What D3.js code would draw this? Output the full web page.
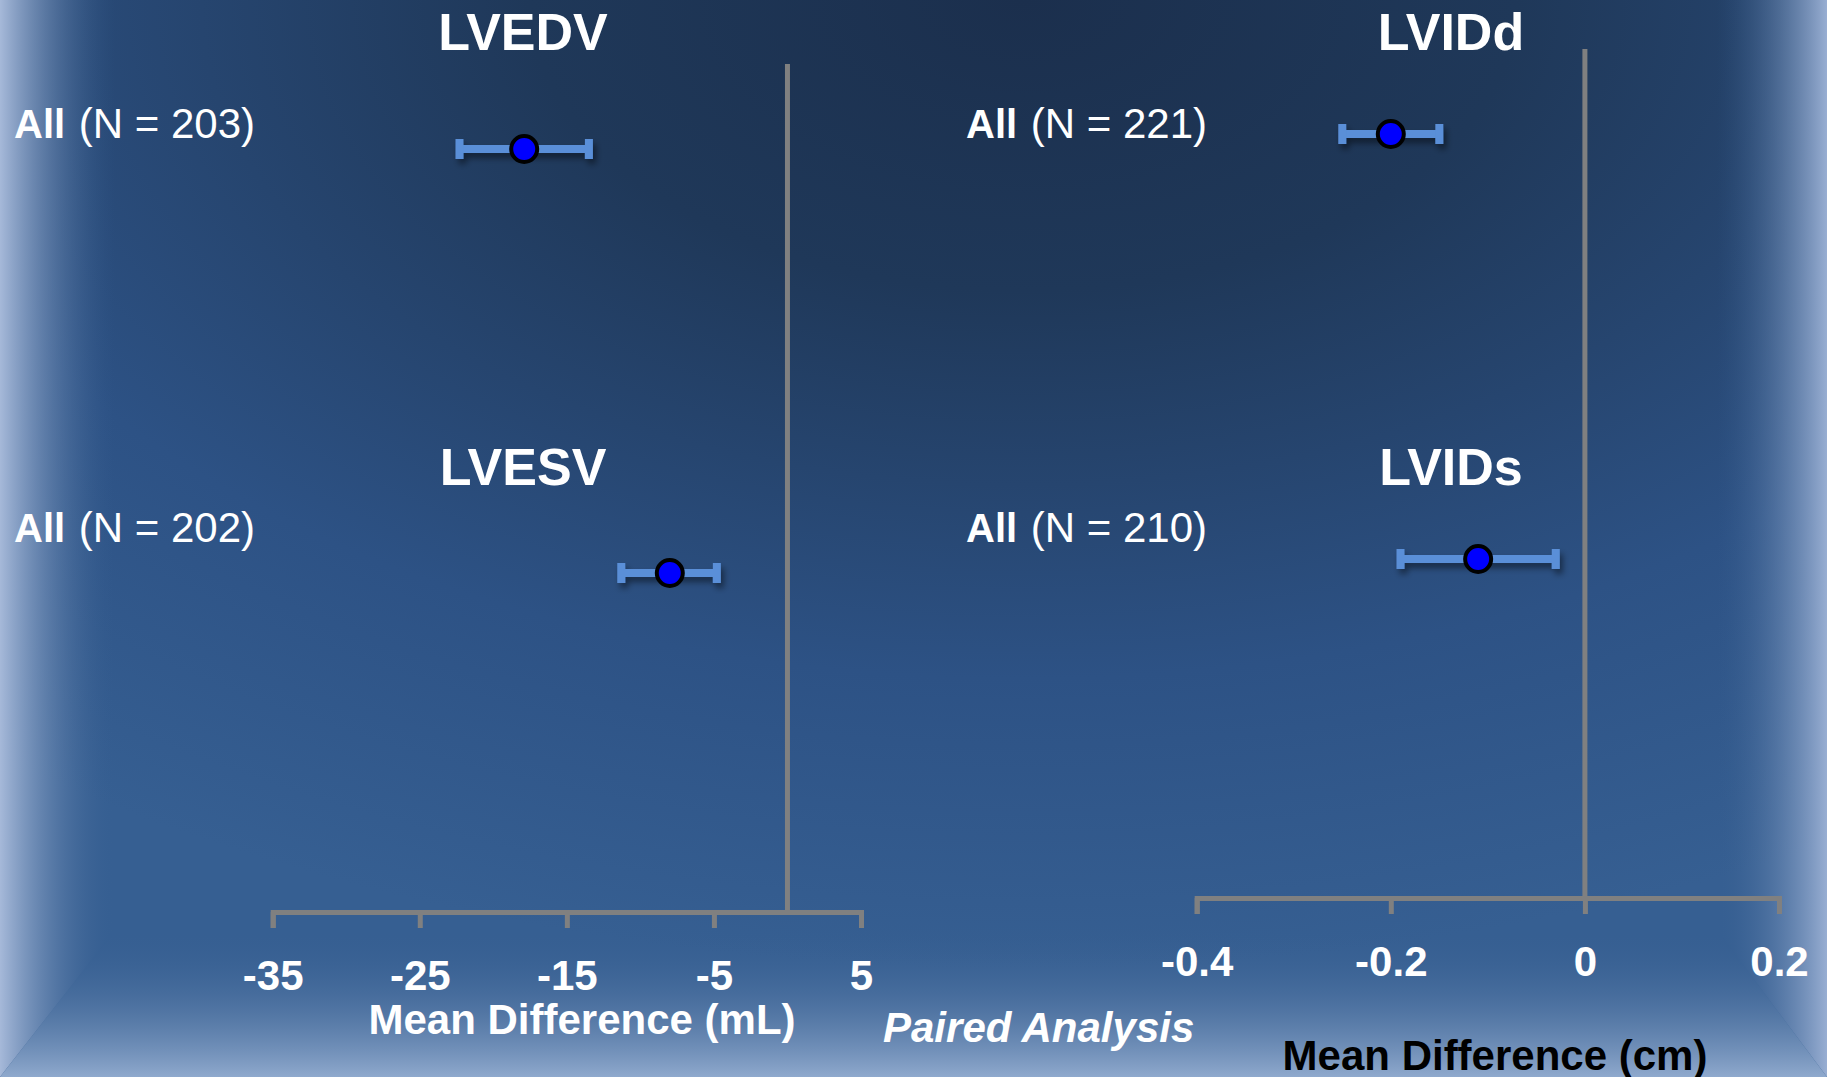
<!DOCTYPE html>
<html>
<head>
<meta charset="utf-8">
<script src="https://cdn.jsdelivr.net/npm/d3@7"></script>
<style>
  html, body { margin: 0; padding: 0; background: #2c4f7e; }
  svg { display: block; }
  text { font-family: "Liberation Sans", Arial, sans-serif; }
</style>
</head>
<body>
<div class="container"></div>
<script>
var w = 1827;
var h = 1077;

// left panel (volumes, mL)
var leftCats = ["LVEDV", "LVESV"];
var leftN = [203, 202];
var leftMean = [-17.9, -8.0];
var leftLo = [-22.3, -11.3];
var leftHi = [-13.5, -4.8];
var leftTicks = [-35, -25, -15, -5, 5];

// right panel (dimensions, cm)
var rightCats = ["LVIDd", "LVIDs"];
var rightN = [221, 210];
var rightMean = [-0.20, -0.11];
var rightLo = [-0.25, -0.19];
var rightHi = [-0.15, -0.03];
var rightTicks = [-0.4, -0.2, 0, 0.2];

var svg = d3
  .select(".container")
  .append("svg")
  .attr("width", w)
  .attr("height", h);

var defs = svg.append("defs");

// background gradients
var rg = defs.append("radialGradient")
  .attr("id", "bgRad")
  .attr("cx", 0.56).attr("cy", 0.0).attr("r", 0.9)
  .attr("fx", 0.56).attr("fy", 0.0);
rg.append("stop").attr("offset", 0).attr("stop-color", "#1b2f4d");
rg.append("stop").attr("offset", 0.3).attr("stop-color", "#1f3859");
rg.append("stop").attr("offset", 0.7).attr("stop-color", "#2d5285");
rg.append("stop").attr("offset", 1).attr("stop-color", "#365f92");

var lg = defs.append("linearGradient").attr("id", "edgeL")
  .attr("x1", 0).attr("x2", 1).attr("y1", 0).attr("y2", 0);
lg.append("stop").attr("offset", 0).attr("stop-color", "#a6b9d9").attr("stop-opacity", 1);
lg.append("stop").attr("offset", 1).attr("stop-color", "#355d8f").attr("stop-opacity", 0);

var rgE = defs.append("linearGradient").attr("id", "edgeR")
  .attr("x1", 1).attr("x2", 0).attr("y1", 0).attr("y2", 0);
rgE.append("stop").attr("offset", 0).attr("stop-color", "#98aed2").attr("stop-opacity", 1);
rgE.append("stop").attr("offset", 1).attr("stop-color", "#355d8f").attr("stop-opacity", 0);

var bg = defs.append("linearGradient").attr("id", "edgeB")
  .attr("x1", 0).attr("x2", 0).attr("y1", 1).attr("y2", 0);
bg.append("stop").attr("offset", 0).attr("stop-color", "#8fa9cd").attr("stop-opacity", 1);
bg.append("stop").attr("offset", 1).attr("stop-color", "#355d8f").attr("stop-opacity", 0);

var shadow = defs.append("filter").attr("id", "shadow")
  .attr("x", "-20%").attr("y", "-100%").attr("width", "140%").attr("height", "300%");
shadow.append("feDropShadow")
  .attr("dx", 3).attr("dy", 5).attr("stdDeviation", 3)
  .attr("flood-color", "#000").attr("flood-opacity", 0.45);

svg.append("rect").attr("width", w).attr("height", h).attr("fill", "url(#bgRad)");

var eL = 115, eR = w - 110, eB = 930;
svg.append("polygon")
  .attr("points", [[0, 0], [eL, 0], [eL, eB], [0, h]].join(" "))
  .attr("fill", "url(#edgeL)");
svg.append("polygon")
  .attr("points", [[w, 0], [eR, 0], [eR, eB], [w, h]].join(" "))
  .attr("fill", "url(#edgeR)");
svg.append("polygon")
  .attr("points", [[0, h], [eL, eB], [eR, eB], [w, h]].join(" "))
  .attr("fill", "url(#edgeB)");

function panel(cfg) {
  var x = d3.scaleLinear().domain(cfg.domain).range(cfg.xRange);
  var y = d3.scalePoint().domain(cfg.cats).range(cfg.yRange);

  var g = svg.append("g");

  // zero reference line
  g.append("line")
    .attr("x1", x(0)).attr("x2", x(0))
    .attr("y1", cfg.top).attr("y2", cfg.axisY)
    .attr("stroke", "#808080")
    .attr("stroke-width", 5);

  var axis = g.append("g")
    .attr("transform", "translate(0," + cfg.axisY + ")")
    .call(d3.axisBottom(x)
      .tickValues(cfg.ticks)
      .tickSize(16)
      .tickSizeOuter(16)
      .tickPadding(32)
      .tickFormat(cfg.fmt));
  axis.select(".domain").attr("stroke", "#808080").attr("stroke-width", 5);
  axis.selectAll(".tick line").attr("stroke", "#808080").attr("stroke-width", 5);
  axis.selectAll(".tick text")
    .attr("fill", "#fff")
    .style("font-family", '"Liberation Sans", Arial, sans-serif')
    .style("font-weight", "bold")
    .style("font-size", "42px");

  var rows = cfg.cats.map(function(c, i) {
    return { cat: c, mean: cfg.mean[i], lo: cfg.lo[i], hi: cfg.hi[i] };
  });

  var bars = g.append("g").attr("filter", "url(#shadow)")
    .selectAll("g").data(rows).enter().append("g");
  bars.append("line")
    .attr("x1", d => x(d.lo)).attr("x2", d => x(d.hi))
    .attr("y1", d => y(d.cat)).attr("y2", d => y(d.cat))
    .attr("stroke", "#5a8fd8").attr("stroke-width", 8);
  bars.append("line")
    .attr("x1", d => x(d.lo)).attr("x2", d => x(d.lo))
    .attr("y1", d => y(d.cat) - 10).attr("y2", d => y(d.cat) + 10)
    .attr("stroke", "#5a8fd8").attr("stroke-width", 8);
  bars.append("line")
    .attr("x1", d => x(d.hi)).attr("x2", d => x(d.hi))
    .attr("y1", d => y(d.cat) - 10).attr("y2", d => y(d.cat) + 10)
    .attr("stroke", "#5a8fd8").attr("stroke-width", 8);

  g.selectAll("circle.pt").data(rows).enter().append("circle")
    .attr("class", "pt")
    .attr("cx", d => x(d.mean))
    .attr("cy", d => y(d.cat))
    .attr("r", 13)
    .attr("fill", "#0000ff")
    .attr("stroke", "#000")
    .attr("stroke-width", 4);

  // titles and N labels
  cfg.cats.forEach(function(c, i) {
    g.append("text")
      .attr("x", cfg.titleX).attr("y", cfg.titleY[i])
      .attr("text-anchor", "middle")
      .attr("fill", "#fff")
      .attr("font-weight", "bold")
      .attr("font-size", 52)
      .text(c);
    var t = g.append("text")
      .attr("x", cfg.labelX).attr("y", cfg.labelY[i])
      .attr("fill", "#fff");
    t.append("tspan").attr("font-weight", "bold").attr("font-size", 40).text("All");
    t.append("tspan").attr("font-size", 42).attr("dx", 2).text(" (N = " + cfg.n[i] + ")");
  });
}

var hyphen = f => (d => f(d).replace("\u2212", "-"));

panel({
  cats: leftCats, n: leftN, mean: leftMean, lo: leftLo, hi: leftHi,
  domain: [-35, 5], xRange: [272.7, 861], yRange: [149, 573],
  ticks: leftTicks, fmt: hyphen(d3.format("d")),
  top: 64, axisY: 912,
  titleX: 523, titleY: [50, 485],
  labelX: 14, labelY: [138, 542]
});

panel({
  cats: rightCats, n: rightN, mean: rightMean, lo: rightLo, hi: rightHi,
  domain: [-0.4, 0.2], xRange: [1196.7, 1779], yRange: [134, 559],
  ticks: rightTicks, fmt: hyphen(d => d === 0 ? "0" : d3.format(".1f")(d)),
  top: 49, axisY: 898,
  titleX: 1451, titleY: [50, 485],
  labelX: 966, labelY: [138, 542]
});

// axis titles
svg.append("text")
  .attr("x", 582).attr("y", 1034)
  .attr("text-anchor", "middle")
  .attr("fill", "#fff")
  .attr("font-weight", "bold")
  .attr("font-size", 42)
  .text("Mean Difference (mL)");

svg.append("text")
  .attr("x", 883).attr("y", 1042)
  .attr("fill", "#fff")
  .attr("font-weight", "bold")
  .attr("font-style", "italic")
  .attr("font-size", 42)
  .text("Paired Analysis");

svg.append("text")
  .attr("x", 1495).attr("y", 1070)
  .attr("text-anchor", "middle")
  .attr("fill", "#000")
  .attr("font-weight", "bold")
  .attr("font-size", 42)
  .text("Mean Difference (cm)");
</script>
</body>
</html>
